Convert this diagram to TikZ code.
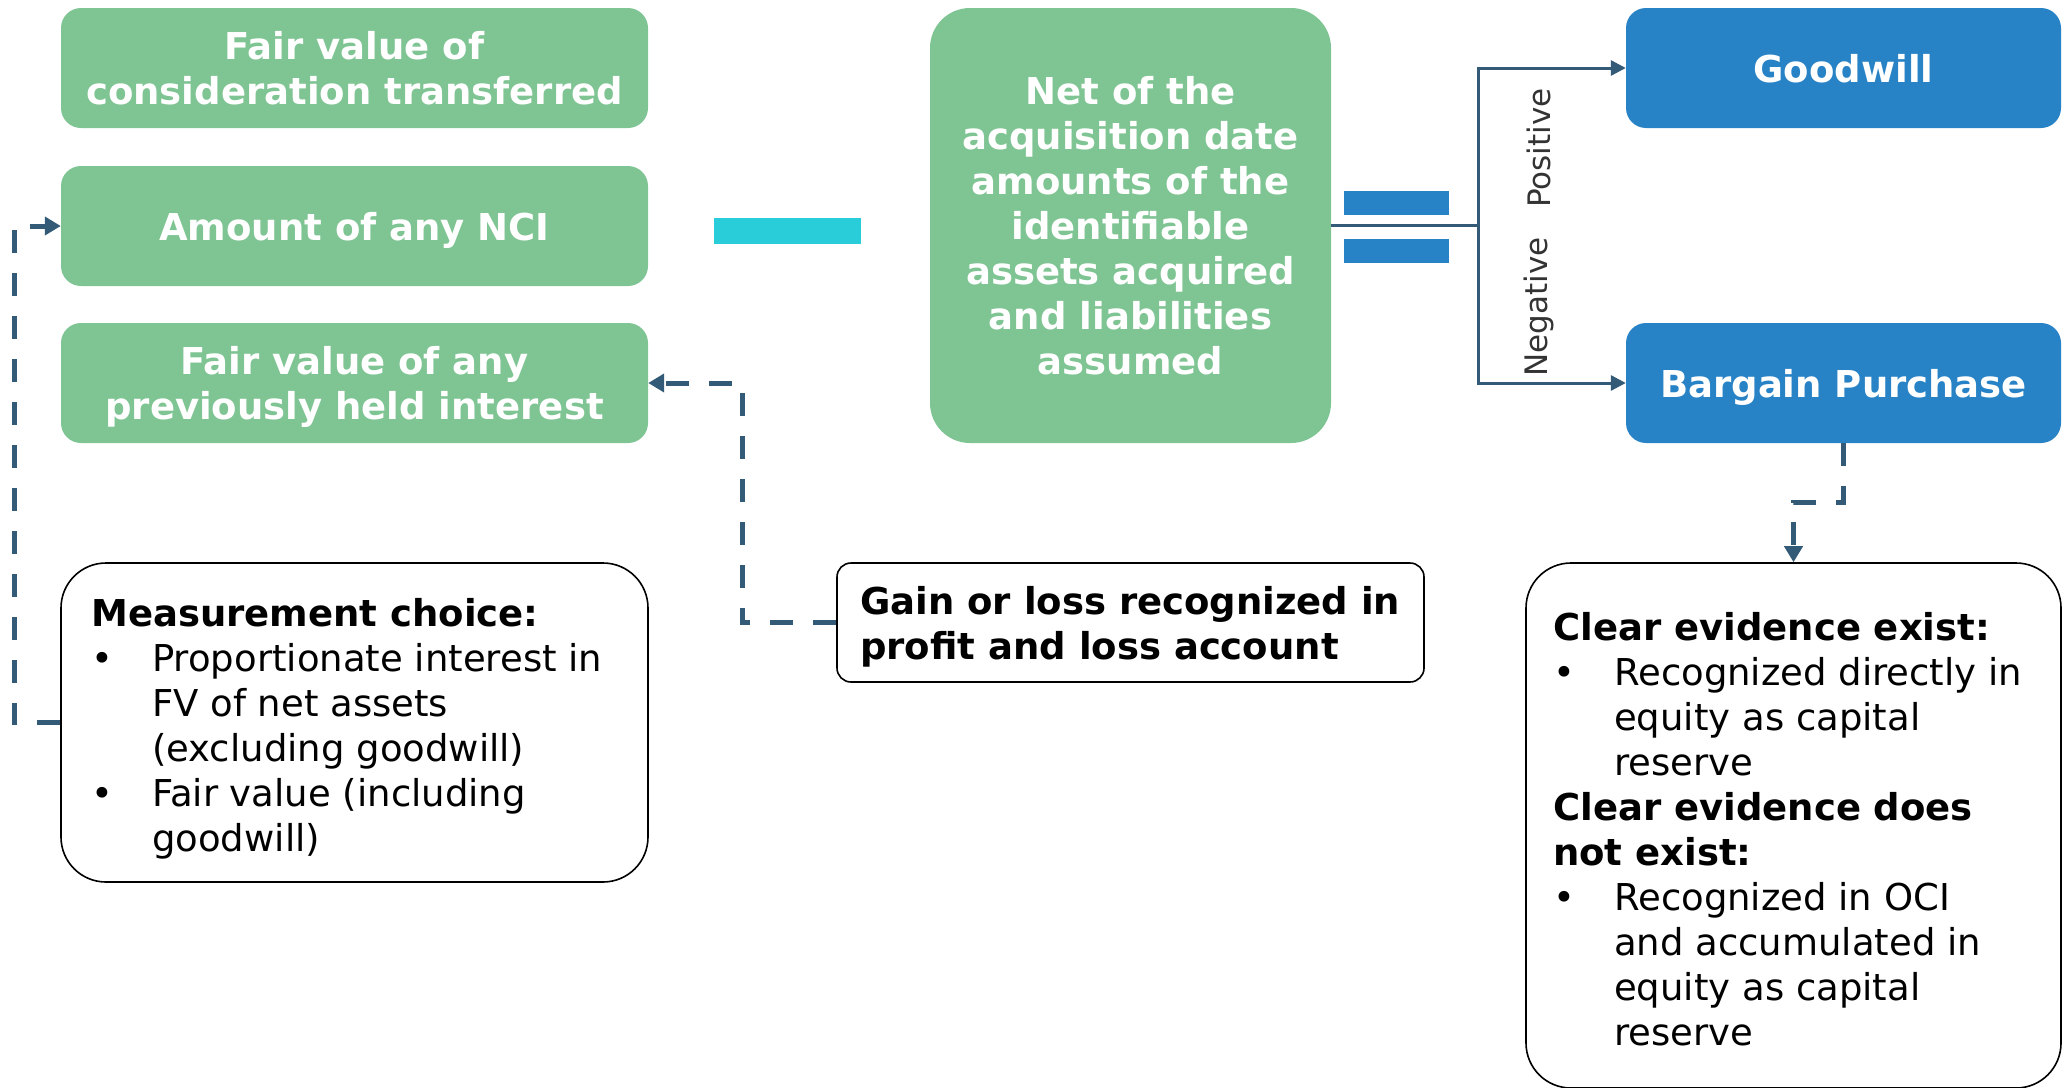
\documentclass[tikz,border=0pt]{standalone}
\usepackage{fontspec}
\setmainfont{DejaVu Sans}
\usetikzlibrary{arrows.meta}
\definecolor{boxgreen}{HTML}{7FC493}
\definecolor{boxblue}{HTML}{2883C6}
\definecolor{minuscyan}{HTML}{29CCD9}
\definecolor{linkslate}{HTML}{335B78}
\definecolor{labelgray}{HTML}{333333}
% bullet and hanging indent for the list lines
\newcommand{\bul}{\makebox[61pt][l]{\textbullet}}
\newcommand{\ind}{\hspace*{61pt}}

\begin{document}
\begin{tikzpicture}[x=1pt,y=-1pt,
  every node/.style={inner sep=0pt},
  greenbox/.style={font=\fontsize{37}{45}\selectfont\bfseries, fill=boxgreen, text=white,
    rounded corners=20pt, align=center, text depth=0pt, minimum width=587pt, minimum height=120pt},
  bluebox/.style={greenbox, fill=boxblue, minimum width=435pt},
  notebox/.style={draw=black, line width=1.6pt, fill=white},
  notetext/.style={font=\fontsize{37}{45}\selectfont, anchor=north west, align=left},
  bar/.style={fill=boxblue, minimum width=105pt, minimum height=24pt},
  link/.style={draw=linkslate, line width=3pt, -{Triangle[length=15pt,width=15pt]}},
  dashlink/.style={draw=linkslate, line width=5pt, dash pattern=on 23pt off 20pt,
    -{Triangle[length=16pt,width=18pt]}},
  branch/.style={font=\fontsize{31}{37}\selectfont, text=labelgray, rotate=90}
]
\path[use as bounding box] (0,0) rectangle (2068,1087);

% left column: the three amounts
\node[greenbox] (fvc) at (354.5,68) {Fair value of\\consideration transferred};
\node[greenbox] (nci) at (354.5,226) {Amount of any NCI};
\node[greenbox] (fvp) at (354.5,383) {Fair value of any\\previously held interest};

% minus sign
\node[fill=minuscyan, minimum width=147pt, minimum height=26pt] (minus) at (787.5,231) {};

% net assets
\node[greenbox, rounded corners=40pt, minimum width=401pt, minimum height=435pt] (net) at (1130.5,225.5)
  {Net of the\\acquisition date\\amounts of the\\identifiable\\assets acquired\\and liabilities\\assumed};

% equals sign
\node[bar] (eqtop) at (1396.5,203) {};
\node[bar] (eqbot) at (1396.5,250.5) {};

% outcomes
\node[bluebox] (gw) at (1843.5,68) {Goodwill};
\node[bluebox] (bp) at (1843.5,383) {Bargain Purchase};

\coordinate (jn) at (1478,225.5);
\draw[link] (net.east) -- (jn) |- (gw.west);
\draw[link] (jn) |- (bp.west);
\node[branch] (pos) at (1539,148) {Positive};
\node[branch] (neg) at (1539,307) {Negative};

% measurement choice note
\node[notebox, rounded corners=45pt, minimum width=587pt, minimum height=319pt] (meas) at (354.5,722.5) {};
\node[notetext] (meastext) at (91,594.5)
  {\strut\textbf{Measurement choice:}\\
   \bul Proportionate interest in\\
   \ind FV of net assets\\
   \ind (excluding goodwill)\\
   \bul Fair value (including\\
   \ind goodwill)};

% gain or loss note
\node[notebox, rounded corners=14pt, minimum width=587pt, minimum height=119pt] (gain) at (1130.5,622.5) {};
\node[notetext, font=\fontsize{37}{45}\selectfont\bfseries] (gaintext) at (860,582.5)
  {\strut Gain or loss recognized in\\profit and loss account};

% evidence note
\node[notebox, rounded corners=45pt, minimum width=535pt, minimum height=525pt] (ev) at (1793.5,825.5) {};
\node[notetext] (evtext) at (1553,608.5)
  {\strut\textbf{Clear evidence exist:}\\
   \bul Recognized directly in\\
   \ind equity as capital\\
   \ind reserve\\
   \textbf{Clear evidence does}\\
   \textbf{not exist:}\\
   \bul Recognized in OCI\\
   \ind and accumulated in\\
   \ind equity as capital\\
   \ind reserve};

% dashed feedback links
\coordinate (mcorner) at (14,722.5);
\draw[dashlink] (meas.west) -- (mcorner) |- (nci.west);
\coordinate (gcorner) at (742,622.5);
\draw[dashlink] (gain.west) -- (gcorner) |- (fvp.east);
\coordinate (bcorner) at (1843.5,502);
\draw[dashlink] (bp.south) -- (bcorner) -| (ev.north);
\end{tikzpicture}
\end{document}
